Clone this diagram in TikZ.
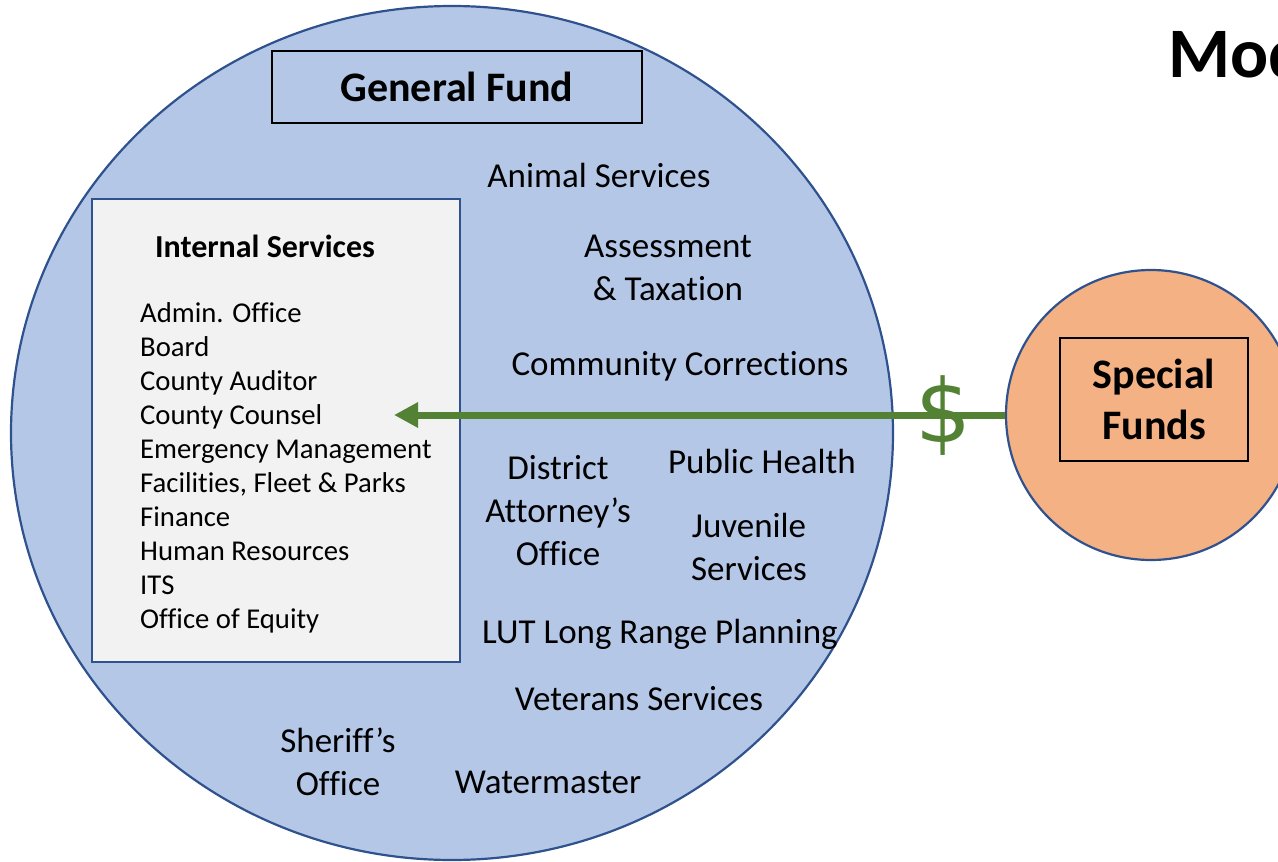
\documentclass[tikz,border=0pt]{standalone}
\usepackage{fontspec}
\setmainfont[Ligatures=NoCommon]{Carlito}
\newfontfamily\cashfont{DejaVu Sans}
\usetikzlibrary{positioning,shapes.geometric,arrows.meta}
\definecolor{fundblue}{HTML}{B4C7E7}
\definecolor{rimblue}{HTML}{2F528F}
\definecolor{specorange}{HTML}{F4B183}
\definecolor{cashgreen}{HTML}{548235}
\definecolor{boxgray}{HTML}{F2F2F2}

\begin{document}
\begin{tikzpicture}[x=1pt, y=-1pt, fund/.style = {draw=rimblue, line width=2.2pt}, title/.style = {draw=black, line width=1.8pt, rectangle, font=\fontsize{42}{51}\selectfont\bfseries, align=center, inner sep=0pt}, dept/.style = {font=\fontsize{35}{43}\selectfont, align=center, inner sep=0pt}, isv/.style = {font=\fontsize{28.7}{34}\selectfont, inner sep=0pt, anchor=base west}]
		\clip (0,0) rectangle (1278,862);
		\node[fund, ellipse, fill=fundblue, minimum width=882pt, minimum height=854pt] (gf) at (452,433) {};
		\node[title, minimum width=370pt, minimum height=72pt] (gftitle) at (457,87) {General Fund};
		\node[draw=rimblue, line width=2pt, fill=boxgray, minimum width=368pt, minimum height=463pt, inner sep=0pt] (isbox) at (276,430.5) {};
		\node[font=\fontsize{32}{36}\selectfont\bfseries, anchor=base, inner sep=0pt] (ishead) at (265,257) {Internal Services};
		\node[isv] (is1) at (140,322) {Admin. Office};
		\node[isv] (is2) at (140,356) {Board};
		\node[isv] (is3) at (140,390) {County Auditor};
		\node[isv] (is4) at (140,424) {County Counsel};
		\node[isv] (is5) at (140,458) {Emergency Management};
		\node[isv] (is6) at (140,492) {Facilities, Fleet \& Parks};
		\node[isv] (is7) at (140,526) {Finance};
		\node[isv] (is8) at (140,560) {Human Resources};
		\node[isv] (is9) at (140,594) {ITS};
		\node[isv] (is10) at (140,628) {Office of Equity};
		\node[dept, anchor=base] (anim) at (599,187) {Animal Services};
		\node[dept] (asmt) at (668,268) {Assessment\\\& Taxation};
		\node[dept, anchor=base] (corr) at (680,375) {Community Corrections};
		\node[dept] (da) at (558,511) {District\\Attorney’s\\Office};
		\node[dept, anchor=base] (pubh) at (762,473) {Public Health};
		\node[dept] (juv) at (749,547) {Juvenile\\Services};
		\node[dept, anchor=base] (lut) at (660,643) {LUT Long Range Planning};
		\node[dept, anchor=base] (vet) at (639,710) {Veterans Services};
		\node[dept] (sher) at (338,762) {Sheriff’s\\Office};
		\node[dept, anchor=base] (wat) at (548,793) {Watermaster};
		\node[fund, circle, fill=specorange, minimum size=290pt] (sf) at (1151,415) {};
		\node[title, minimum width=188pt, minimum height=123pt] (sftitle) at (1154,399.5) {Special\\Funds};
		\node[font=\fontsize{71}{80}\selectfont\bfseries, anchor=base west, inner sep=0pt] (mod) at (1168,77) {Mod};
		\coordinate (tip) at (394,415);
		\draw[cashgreen, line width=7pt, -{Triangle[length=24pt, width=24pt]}] (sf.west) -- (tip);
		\node[text=cashgreen, font=\cashfont\fontsize{88}{88}\selectfont, inner sep=0pt] (cash) at (943,416) {\$};
\end{tikzpicture}
\end{document}
